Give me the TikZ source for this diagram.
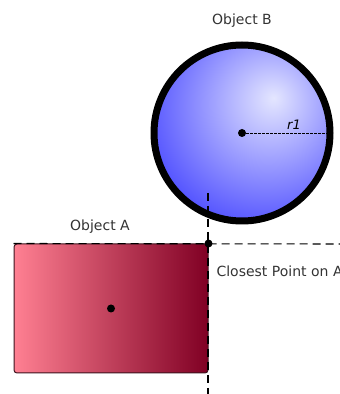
\documentclass[tikz,border=0pt]{standalone}
\usepackage{fontspec}
\setmainfont{DejaVu Sans}
\usetikzlibrary{arrows.meta,positioning}

\definecolor{sphereHi}{RGB}{228,230,255}
\definecolor{sphereBase}{RGB}{82,82,255}
\definecolor{boxLeft}{RGB}{255,128,146}
\definecolor{boxRight}{RGB}{128,0,36}
\definecolor{boxEdge}{RGB}{60,20,30}
\pgfdeclareradialshading{bluesphere}{\pgfpoint{9bp}{10bp}}{%
  color(0bp)=(sphereHi); color(34bp)=(sphereBase); color(100bp)=(sphereBase)}

\begin{document}
\begin{tikzpicture}[x=1pt,y=1pt,
label/.style={font=\fontsize{14}{16}\selectfont,text=black!80},
guide/.style={dash pattern=on 8pt off 5pt,line width=1.1pt},
dot/.style={circle,fill=black,inner sep=0pt,minimum size=8pt}]
\useasboundingbox (0,0) rectangle (340,394);
\clip (0,0) rectangle (340,394);
% object B
\node[circle,draw,line width=7pt,shading=bluesphere,minimum size=176pt,inner sep=0pt] (objB) at (242,261) {};
\node[dot] (cB) at (objB.center) {};
\draw[dash pattern=on 2.5pt off 1.5pt,line width=0.9pt] (cB) -- (objB.east);
\node[font=\fontsize{13}{15}\selectfont\itshape] (r) at (294,269) {r1};
\node[label] (labB) at (242,373) {Object B};
% object A
\node[rectangle,rounded corners=3pt,draw=boxEdge,line width=1pt,left color=boxLeft,right color=boxRight,minimum width=194pt,minimum height=129pt,inner sep=0pt] (objA) at (111,85.5) {};
\node[dot] (cA) at (objA.center) {};
\node[label] (labA) at (100,167) {Object A};
% closest point
\coordinate (hEnd) at (340,150);
\coordinate (vTop) at (208,201);
\coordinate (vBot) at (208,0);
\draw[guide] (objA.north west) -- (hEnd);
\draw[guide] (vTop) -- (vBot);
\node[dot] (near) at (objA.north east) {};
\node[label,anchor=west] (labP) at (213,123) {Closest Point on A};
\end{tikzpicture}
\end{document}
